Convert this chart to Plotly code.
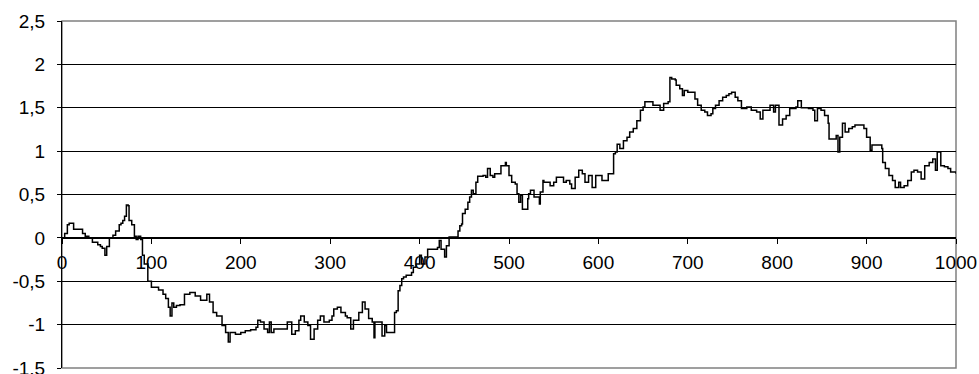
import plotly.graph_objects as go

# Step index (x) and walk value (y)
steps = [0, 3, 6, 8, 13, 21, 23, 26, 30, 34, 40, 43, 45, 48, 50, 53, 57, 60, 64, 66,
         68, 70, 72, 74, 75, 78, 81, 83, 85, 88, 90, 92, 96, 100, 108, 113, 116, 119,
         121, 123, 125, 128,
         132, 137, 143, 149, 155, 160, 162, 165, 169, 173, 177, 179, 183, 186, 188,
         194, 200, 205, 211, 217, 219, 222, 226, 230, 232, 234, 237, 245, 252, 256,
         257, 261, 265, 267, 271, 275, 278, 282, 286, 289, 293, 299, 302, 304, 308,
         312, 315, 317, 319, 323, 326, 332, 336, 339, 343, 347, 349, 350, 354, 358,
         361, 363, 370, 372, 374, 376, 378, 380, 382, 385, 389, 391, 393, 396, 400,
         402, 406, 409, 413, 420, 422, 424, 428, 430, 433, 441, 443, 445, 447, 448,
         451, 454, 456, 458, 460, 463, 465, 471, 474, 476, 479, 482, 484, 488, 491,
         494, 496, 497, 500, 503, 507, 509, 511, 513, 515, 518, 521, 522, 524, 528,
         532, 534, 535, 538, 539, 542, 546, 550, 553, 557, 561, 564, 568, 570, 574,
         578, 582, 585, 589, 593, 597, 602, 604, 608, 611, 615, 617, 619, 621, 624,
         628, 632, 635, 639, 643, 647, 650, 652, 658, 661, 665, 669, 673, 678, 680,
         682, 686, 687, 691, 694, 696, 700, 704, 708, 711, 715, 719, 722, 726, 728,
         731, 735, 739, 743, 746, 749, 753, 756, 760, 766, 771, 777, 781, 784, 788,
         792, 796, 798, 802, 806, 810, 814, 818, 821, 823, 827, 835, 840, 842, 845,
         849, 853, 857, 858, 862, 866, 868, 870, 873, 876, 880, 884, 887, 893, 897,
         900, 904, 906, 912, 917, 918, 921, 925, 929, 932, 936, 938, 942, 946, 950,
         953, 957, 961, 965, 970, 974, 977, 979, 983, 987, 991, 994, 1000]
values = [0.0, 0.05, 0.15, 0.17, 0.1, 0.1, 0.05, 0.02, 0.0, -0.05, -0.08, -0.1, -0.12,
          -0.2, -0.1, 0.0, 0.03, 0.08, 0.15, 0.17, 0.2, 0.25, 0.38, 0.37, 0.2, 0.15,
          0.02, -0.02, 0.02, -0.02, -0.2, -0.3, -0.5, -0.57, -0.6, -0.65, -0.7, -0.8,
          -0.9, -0.75, -0.8, -0.78,
          -0.77, -0.65, -0.63, -0.67, -0.72, -0.72, -0.65, -0.74, -0.86, -0.9, -0.9,
          -1.01, -1.09, -1.2, -1.09, -1.11, -1.09, -1.07, -1.06, -1.03, -0.95, -0.97,
          -1.05, -1.09, -0.97, -1.09, -1.05, -1.05, -0.97, -0.97, -1.11, -1.07, -0.95,
          -0.9, -0.97, -1.01, -1.17, -1.05, -0.95, -0.9, -0.97, -0.95, -0.9, -0.82,
          -0.8, -0.86, -0.86, -0.9, -0.92, -1.05, -0.95, -0.86, -0.74, -0.82, -0.93,
          -0.97, -1.15, -0.97, -0.97, -1.13, -1.01, -1.09, -1.09, -0.86, -0.84, -0.61,
          -0.55, -0.47, -0.45, -0.43, -0.43, -0.4, -0.34, -0.3, -0.2, -0.3, -0.22,
          -0.13, -0.13, -0.11, -0.03, -0.13, -0.22, -0.09, 0.01, 0.01, 0.08, 0.14,
          0.16, 0.28, 0.33, 0.41, 0.47, 0.55, 0.51, 0.64, 0.71, 0.72, 0.7, 0.8, 0.72,
          0.7, 0.74, 0.74, 0.83, 0.83, 0.87, 0.83, 0.72, 0.64, 0.62, 0.51, 0.41, 0.49,
          0.33, 0.33, 0.45, 0.51, 0.55, 0.47, 0.47, 0.39, 0.53, 0.66, 0.64, 0.64, 0.6,
          0.64, 0.7, 0.7, 0.64, 0.66, 0.62, 0.57, 0.7, 0.78, 0.74, 0.64, 0.72, 0.58,
          0.72, 0.72, 0.66, 0.66, 0.74, 0.74, 0.97, 0.99, 1.08, 1.03, 1.12, 1.16, 1.22,
          1.26, 1.35, 1.47, 1.51, 1.57, 1.57, 1.53, 1.53, 1.47, 1.55, 1.57, 1.85, 1.83,
          1.82, 1.76, 1.72, 1.64, 1.7, 1.68, 1.68, 1.6, 1.53, 1.47, 1.45, 1.41, 1.43,
          1.49, 1.53, 1.58, 1.62, 1.64, 1.66, 1.68, 1.62, 1.58, 1.49, 1.51, 1.47, 1.45,
          1.37, 1.47, 1.47, 1.53, 1.45, 1.53, 1.3, 1.37, 1.41, 1.49, 1.49, 1.51, 1.58,
          1.5, 1.49, 1.47, 1.35, 1.49, 1.47, 1.41, 1.32, 1.14, 1.14, 1.18, 0.99, 1.16,
          1.32, 1.22, 1.26, 1.28, 1.3, 1.3, 1.26, 1.16, 1.01, 1.07, 1.07, 1.03, 0.87,
          0.8, 0.72, 0.66, 0.58, 0.64, 0.58, 0.6, 0.66, 0.76, 0.78, 0.76, 0.68, 0.83,
          0.87, 0.91, 0.78, 0.99, 0.83, 0.82, 0.8, 0.76, 0.74]

y_tickvals = [2.5, 2, 1.5, 1, 0.5, 0, -0.5, -1, -1.5]
y_ticktext = ["2,5", "2", "1,5", "1", "0,5", "0", "-0,5", "-1", "-1,5"]
x_tickvals = [0, 100, 200, 300, 400, 500, 600, 700, 800, 900, 1000]
x_ticktext = ["0", "100", "200", "300", "400", "500", "600", "700", "800", "900", "1000"]

FONT = "Liberation Sans, Arial, sans-serif"

fig = go.Figure()
fig.add_trace(go.Scatter(
    x=steps, y=values, mode="lines", line=dict(color="black", width=1.5, shape="hv"),
    showlegend=False, hoverinfo="skip", cliponaxis=False))

fig.update_layout(
    width=979, height=374,
    margin=dict(l=62, r=23, t=21, b=6, autoexpand=False),
    paper_bgcolor="white", plot_bgcolor="white",
    font=dict(family=FONT, size=19, color="black"),
    showlegend=False,
    xaxis=dict(
        range=[0, 1000], tickvals=x_tickvals, ticktext=x_ticktext,
        showgrid=False, zeroline=False, showline=True, linecolor="black", linewidth=1,
        ticks="outside", ticklen=5, tickcolor="black", automargin=False,
        anchor="free", position=0.375, ticklabelstandoff=2,
        ticklabeloverflow="allow",
        tickfont=dict(family=FONT, size=19, color="black"),
    ),
    yaxis=dict(
        range=[-1.5, 2.5], tickvals=y_tickvals, ticktext=y_ticktext,
        showgrid=True, gridcolor="black", gridwidth=1, automargin=False,
        zeroline=False, showline=True, linecolor="black", linewidth=1,
        ticks="outside", ticklen=4, tickcolor="black", ticklabelstandoff=8,
        ticklabeloverflow="allow",
        tickfont=dict(family=FONT, size=19, color="black"),
    ),
    shapes=[dict(type="rect", xref="paper", yref="paper", x0=0, x1=1, y0=0, y1=1,
                 line=dict(color="#808080", width=1.5), layer="below")],
)

fig.write_html("out.html", post_script="document.body.style.margin='0';",
               config={"displayModeBar": False})
